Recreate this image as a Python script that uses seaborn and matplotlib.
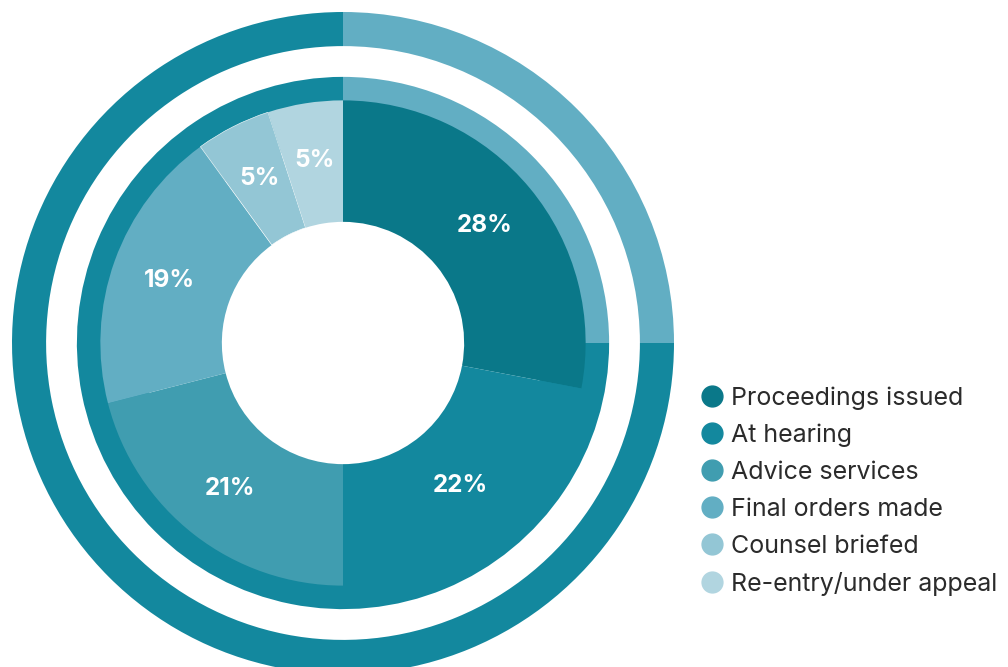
import matplotlib
matplotlib.use('Agg')
import matplotlib.pyplot as plt
from matplotlib.lines import Line2D
import seaborn as sns

# Inner donut: share of matters by stage
stages = ['Proceedings issued', 'At hearing', 'Advice services',
          'Final orders made', 'Counsel briefed', 'Re-entry/under appeal']
shares = [28, 22, 21, 19, 5, 5]
stage_colors = ['#0a7889', '#13889e', '#409db0', '#62aec3', '#93c6d5', '#b1d5e0']

# Outer rings (quarter highlighted)
ring_values = [25, 75]
ring_colors = ['#62aec3', '#13889e']

sns.set_theme(style='white')
plt.rcParams['font.family'] = ['Inter', 'DejaVu Sans']

fig = plt.figure(figsize=(10.08, 6.67), dpi=100)
cx, cy, R = 343, 343, 331
W, H = 1008, 667
ax = fig.add_axes([(cx - R) / W, (H - cy - R) / H, 2 * R / W, 2 * R / H])

# outer thin ring
ax.pie(ring_values, colors=ring_colors, radius=1.0, startangle=90, counterclock=False,
       wedgeprops=dict(width=0.103, linewidth=0))
# middle backing ring
ax.pie(ring_values, colors=ring_colors, radius=0.804, startangle=90, counterclock=False,
       wedgeprops=dict(width=0.2, linewidth=0))
# inner donut with labels
wedges, _, autotexts = ax.pie(
    shares, colors=stage_colors, radius=0.733, startangle=90, counterclock=False,
    autopct='%d%%', pctdistance=0.76,
    wedgeprops=dict(width=0.367, linewidth=0),
    textprops=dict(color='white', fontsize=17.5, fontweight='bold'))
# thin divider between final orders and counsel briefed
wedges[4].set_edgecolor('white')
wedges[4].set_linewidth(0.4)

ax.set_xlim(-1, 1)
ax.set_ylim(-1, 1)
ax.set_aspect('equal')
ax.axis('off')

handles = [Line2D([0], [0], marker='o', linestyle='', markersize=15,
                  markerfacecolor=c, markeredgecolor=c) for c in stage_colors]
fig.legend(handles, stages, loc='upper left', bbox_to_anchor=(0.683, 0.436),
           frameon=False, fontsize=18, handletextpad=0.22, labelspacing=0.56,
           handlelength=1.1, borderaxespad=0, labelcolor='#2b2b2b')

fig.savefig('out.png', dpi=100)
